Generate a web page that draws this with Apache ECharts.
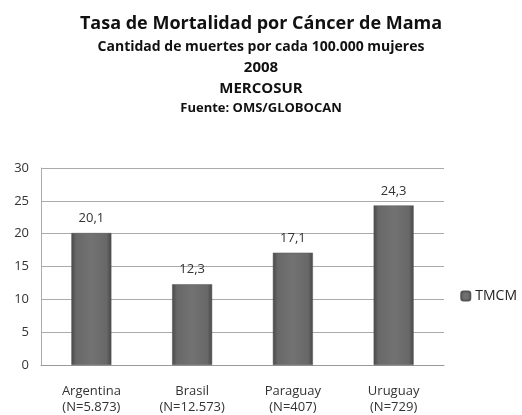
<!DOCTYPE html>
<html>
<head>
<meta charset="utf-8">
<script src="https://cdn.jsdelivr.net/npm/echarts@6/dist/echarts.min.js"></script>
<style>
  html, body { margin: 0; padding: 0; background: #fff; }
  #chart { width: 522px; height: 415px; }
</style>
</head>
<body>
<div id="chart"></div>
<script>
const countries = ['Argentina\n(N=5.873)', 'Brasil\n(N=12.573)', 'Paraguay\n(N=407)', 'Uruguay\n(N=729)'];
const tmcm = [20.1, 12.3, 17.1, 24.3];
const seriesName = 'TMCM';
const titleLines = [
  'Tasa de Mortalidad por Cáncer de Mama',
  'Cantidad de muertes por cada 100.000 mujeres',
  '2008',
  'MERCOSUR',
  'Fuente: OMS/GLOBOCAN'
];

const font = '"Open Sans", "DejaVu Sans", sans-serif';
const chart = echarts.init(document.getElementById('chart'));

const barColor = new echarts.graphic.LinearGradient(0, 0, 1, 0, [
  { offset: 0, color: '#484848' },
  { offset: 0.12, color: '#686868' },
  { offset: 0.5, color: '#727272' },
  { offset: 0.88, color: '#686868' },
  { offset: 1, color: '#484848' }
]);

// title block: one title per line
const sizes = [18, 14, 15, 15, 13];
const tops = [10, 35, 55, 76, 97];
const titles = titleLines.map((t, i) => ({
  text: t,
  left: 'center',
  top: tops[i],
  textStyle: { fontFamily: font, fontSize: sizes[i], fontWeight: 'bold', color: '#111' }
}));

chart.setOption({
  animation: false,
  title: titles,
  legend: {
    data: [seriesName],
    right: 0,
    top: 284,
    itemWidth: 9,
    itemHeight: 9,
    itemGap: 4,
    textStyle: { fontFamily: font, fontSize: 14, color: '#222' }
  },
  grid: { left: 41, right: 78, top: 168, bottom: 48 },
  xAxis: {
    type: 'category',
    data: countries,
    axisTick: { show: false },
    axisLine: { lineStyle: { color: '#999' } },
    axisLabel: { fontFamily: font, fontSize: 13, color: '#333', lineHeight: 16, margin: 18 }
  },
  yAxis: {
    type: 'value',
    min: 0,
    max: 30,
    interval: 5,
    axisLine: { show: true, lineStyle: { color: '#aaa' } },
    axisTick: { show: false },
    splitLine: { lineStyle: { color: '#aaa' } },
    axisLabel: { fontFamily: font, fontSize: 13, color: '#333', margin: 12 }
  },
  series: [{
    name: seriesName,
    type: 'bar',
    data: tmcm,
    barWidth: 40,
    itemStyle: { color: barColor, borderColor: '#555', borderWidth: 0.5 },
    label: {
      show: true,
      position: 'top',
      distance: 8,
      fontFamily: font,
      fontSize: 13,
      color: '#333',
      formatter: p => String(p.value).replace('.', ',')
    }
  }]
});
</script>
</body>
</html>
